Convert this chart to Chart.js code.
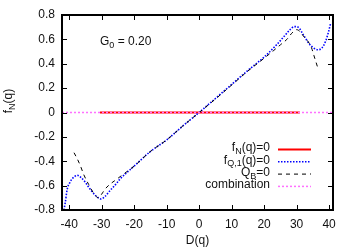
<!DOCTYPE html>
<html>
<head>
<meta charset="utf-8">
<script src="https://cdn.jsdelivr.net/npm/chart.js@4.4.0/dist/chart.umd.min.js"></script>
<style>
  html, body { margin: 0; padding: 0; background: #fff; }
  #wrap { width: 354px; height: 248px; }
</style>
</head>
<body>
<div id="wrap"><canvas id="plot" width="354" height="248"></canvas></div>
<script>
// tick values
const xTicks = [-40, -30, -20, -10, 0, 10, 20, 30, 40];
const yTicks = [-0.8, -0.6, -0.4, -0.2, 0, 0.2, 0.4, 0.6, 0.8];

// f_N(q)=0 (solid red)
const fnX = [-30.5, 31];
const fnY = [0, 0];

// f_Q,1(q)=0 (blue dotted)
const fqX = [-41.6, -41.2, -40.6, -39.8, -39.1, -38.3, -37.5, -36.5, -35.1, -33.8, -32.9, -31.5, -30.2, -29, -27.4, -26, -24.3, -20, -15, -10, -5, 0, 5, 10, 15, 20, 24, 26, 28, 29.3, 30.5, 32, 34, 35.5, 36.6, 37.8, 39, 39.8, 40.5];
const fqY = [-0.8, -0.74, -0.63, -0.575, -0.545, -0.525, -0.515, -0.53, -0.57, -0.62, -0.65, -0.69, -0.71, -0.69, -0.64, -0.6, -0.545, -0.44, -0.32, -0.225, -0.11, 0, 0.115, 0.23, 0.345, 0.455, 0.56, 0.62, 0.68, 0.705, 0.70, 0.64, 0.56, 0.525, 0.515, 0.53, 0.59, 0.66, 0.735];

// Q_B=0 (black dashed)
const qbX = [-38.5, -37.5, -36.5, -35.5, -34, -32.5, -31, -30, -29, -27.5, -26, -24, -20, -15, -10, -5, 0, 5, 10, 15, 20, 23, 25, 27, 28.5, 30, 31, 32.3, 33.6, 34.6, 35.3, 36, 36.6];
const qbY = [-0.33, -0.38, -0.44, -0.51, -0.59, -0.66, -0.70, -0.67, -0.63, -0.59, -0.56, -0.52, -0.44, -0.32, -0.225, -0.11, 0, 0.11, 0.225, 0.34, 0.445, 0.51, 0.555, 0.60, 0.65, 0.68, 0.665, 0.62, 0.58, 0.53, 0.47, 0.41, 0.36];

// combination (pink dashed)
const cbX = [-42.2, 41.2];
const cbY = [0, 0];

const pts = (xs, ys) => xs.map((x, i) => ({ x: x, y: ys[i] }));

const FONT = '"Liberation Sans", Arial, sans-serif';

// draws text with an optional subscript part: parts = [[text, isSub], ...]
function richText(ctx, parts, x, y, align) {
    const base = 12, sub = 9;
    let w = 0;
    parts.forEach(p => {
        ctx.font = (p[1] ? sub : base) + 'px ' + FONT;
        w += ctx.measureText(p[0]).width;
    });
    let cx = align === 'right' ? x - w : align === 'center' ? x - w / 2 : x;
    parts.forEach(p => {
        ctx.font = (p[1] ? sub : base) + 'px ' + FONT;
        ctx.fillText(p[0], cx, p[1] ? y + 3.5 : y);
        cx += ctx.measureText(p[0]).width;
    });
}

// frame, inward ticks on all sides, legend and labels
const decorations = {
    id: 'decorations',
    afterDatasetsDraw(chart) {
        const { ctx, chartArea: a, scales } = chart;
        ctx.save();
        ctx.strokeStyle = '#000';
        ctx.lineWidth = 1;
        const tl = 5;
        ctx.beginPath();
        xTicks.forEach(v => {
            const px = Math.round(scales.x.getPixelForValue(v)) + 0.5;
            ctx.moveTo(px, a.bottom); ctx.lineTo(px, a.bottom - tl);
            ctx.moveTo(px, a.top); ctx.lineTo(px, a.top + tl);
        });
        yTicks.forEach(v => {
            const py = Math.round(scales.y.getPixelForValue(v)) + 0.5;
            ctx.moveTo(a.left, py); ctx.lineTo(a.left + tl, py);
            ctx.moveTo(a.right, py); ctx.lineTo(a.right - tl, py);
        });
        ctx.stroke();
        ctx.lineWidth = 2;
        ctx.strokeRect(a.left, a.top, a.right - a.left, a.bottom - a.top);

        ctx.fillStyle = '#111';
        ctx.textBaseline = 'middle';
        richText(ctx, [['G', false], ['0', true], [' = 0.20', false]], a.left + 38, 42, 'left');

        // legend
        const legend = [
            { parts: [['f', false], ['N', true], ['(q)=0', false]], color: '#ff0000', width: 2, dash: [] },
            { parts: [['f', false], ['Q,1', true], ['(q)=0', false]], color: '#0000ff', width: 1.6, dash: [1.5, 1.5] },
            { parts: [['Q', false], ['B', true], ['=0', false]], color: '#000', width: 1, dash: [4, 4] },
            { parts: [['combination', false]], color: '#ff70ff', width: 1.5, dash: [2, 2] }
        ];
        legend.forEach((e, i) => {
            const y = 149 + i * 12.3;
            ctx.fillStyle = '#111';
            richText(ctx, e.parts, 270, y - 1, 'right');
            ctx.beginPath();
            ctx.strokeStyle = e.color;
            ctx.lineWidth = e.width;
            ctx.setLineDash(e.dash);
            ctx.moveTo(278, y + 0.5); ctx.lineTo(311, y + 0.5);
            ctx.stroke();
        });
        ctx.setLineDash([]);

        // axis titles
        ctx.fillStyle = '#111';
        richText(ctx, [['D(q)', false]], (a.left + a.right) / 2, 241, 'center');
        ctx.translate(9, 101);
        ctx.rotate(-Math.PI / 2);
        richText(ctx, [['f', false], ['N', true], ['(q)', false]], 0, 0, 'center');
        ctx.restore();
    }
};

new Chart(document.getElementById('plot').getContext('2d'), {
    type: 'scatter',
    data: {
        datasets: [
            { label: 'combination', data: pts(cbX, cbY), showLine: true, borderColor: '#ff70ff', borderWidth: 1.5, borderDash: [2, 2], pointRadius: 0 },
            { label: 'QB=0', data: pts(qbX, qbY), showLine: true, borderColor: '#000', borderWidth: 1, borderDash: [4, 4], pointRadius: 0, cubicInterpolationMode: 'monotone' },
            { label: 'fQ1=0', data: pts(fqX, fqY), showLine: true, borderColor: '#0000ff', borderWidth: 1.6, borderDash: [1.5, 1.5], pointRadius: 0, cubicInterpolationMode: 'monotone' },
            { label: 'fN=0', data: pts(fnX, fnY), showLine: true, borderColor: '#ff0000', borderWidth: 2, pointRadius: 0 }
        ]
    },
    options: {
        responsive: false,
        animation: false,
        devicePixelRatio: 1,
        layout: { padding: { left: 0, right: 21, top: 15, bottom: 0 } },
        plugins: { legend: { display: false }, tooltip: { enabled: false } },
        scales: {
            x: {
                type: 'linear', min: -42.2, max: 41.2,
                afterBuildTicks: s => { s.ticks = xTicks.map(v => ({ value: v })); },
                afterFit: s => { s.height = 38; },
                grid: { display: false, drawTicks: false },
                border: { display: false },
                ticks: { padding: 7, color: '#111', font: { family: FONT, size: 12 }, maxRotation: 0, autoSkip: false }
            },
            y: {
                type: 'linear', min: -0.8, max: 0.8,
                afterBuildTicks: s => { s.ticks = yTicks.map(v => ({ value: v })); },
                afterFit: s => { s.width = 62; },
                grid: { display: false, drawTicks: false },
                border: { display: false },
                ticks: { padding: 7, color: '#111', font: { family: FONT, size: 12 }, autoSkip: false,
                         callback: v => Math.abs(v) < 1e-9 ? '0' : v.toFixed(1) }
            }
        }
    },
    plugins: [decorations]
});
</script>
</body>
</html>
